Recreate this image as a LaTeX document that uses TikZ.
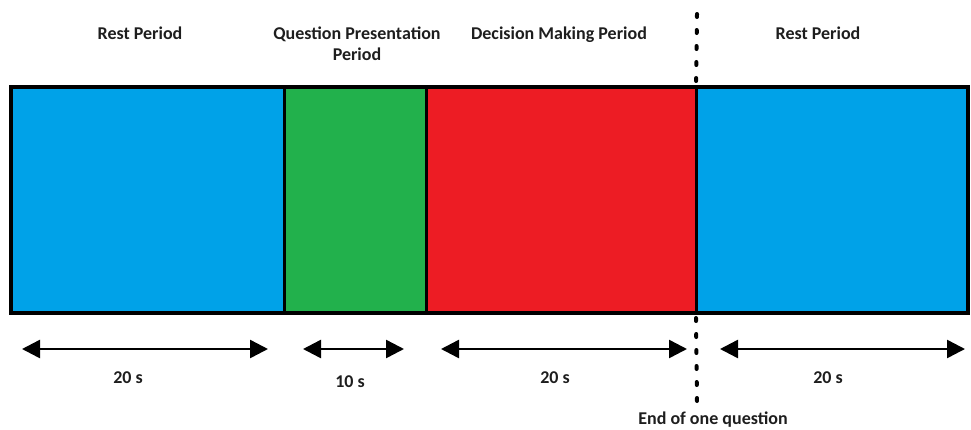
\documentclass[tikz,border=0pt]{standalone}
\usepackage{fontspec}
\setmainfont{Carlito}
\usetikzlibrary{arrows.meta}
\definecolor{restblue}{RGB}{0,162,232}
\definecolor{qgreen}{RGB}{34,177,76}
\definecolor{dred}{RGB}{237,28,36}
\definecolor{txt}{RGB}{30,30,30}
\begin{document}
\begin{tikzpicture}[x=1pt,y=-1pt,
  seg/.style={draw=black, line width=3pt, inner sep=0pt, outer sep=0pt, anchor=north west, minimum height=226pt},
  lbl/.style={text=txt, font=\fontsize{18}{21}\selectfont\bfseries, anchor=base, inner sep=0pt, align=center},
  dur/.style={{Triangle[length=18pt,width=18pt]}-{Triangle[length=18pt,width=18pt]}, line width=2.5pt, black},
  dotline/.style={line width=4pt, line cap=round, dash pattern=on 3pt off 13pt, black}]
\useasboundingbox (0,0) rectangle (971,429);
% segments
\node[seg, fill=restblue, minimum width=273pt] (rest1) at (11,87) {};
\node[seg, fill=qgreen, minimum width=142pt] (qp) at (284,87) {};
\node[seg, fill=dred, minimum width=270pt] (dm) at (426,87) {};
\node[seg, fill=restblue, minimum width=272pt] (rest2) at (696,87) {};
\draw[line width=4pt] (rest1.north west) rectangle (rest2.south east);
% top labels
\node[lbl] (l1) at (140,39) {Rest Period};
\node[lbl] (l2) at (357,39) {Question Presentation};
\node[lbl] (l2b) at (357,60) {Period};
\node[lbl] (l3) at (559,39) {Decision Making Period};
\node[lbl] (l4) at (818,39) {Rest Period};
% dotted end marker
\coordinate (dtop) at (697,14);
\coordinate (dbot) at (697,402);
\draw[dotline] (dtop) -- (rest2.north west);
\draw[dotline] ([yshift=-5pt]rest2.south west) -- (dbot);
% duration arrows
\coordinate (a1l) at (22,349); \coordinate (a1r) at (268,349);
\coordinate (a2l) at (303,349); \coordinate (a2r) at (404,349);
\coordinate (a3l) at (441,349); \coordinate (a3r) at (687,349);
\coordinate (a4l) at (720,349); \coordinate (a4r) at (965,349);
\draw[dur] (a1l) -- (a1r);
\draw[dur] (a2l) -- (a2r);
\draw[dur] (a3l) -- (a3r);
\draw[dur] (a4l) -- (a4r);
\node[lbl] (d1) at (128,383) {20 s};
\node[lbl] (d2) at (350,387) {10 s};
\node[lbl] (d3) at (555,383) {20 s};
\node[lbl] (d4) at (828,383) {20 s};
\node[lbl] (endq) at (713,424.5) {End of one question};
\end{tikzpicture}
\end{document}
